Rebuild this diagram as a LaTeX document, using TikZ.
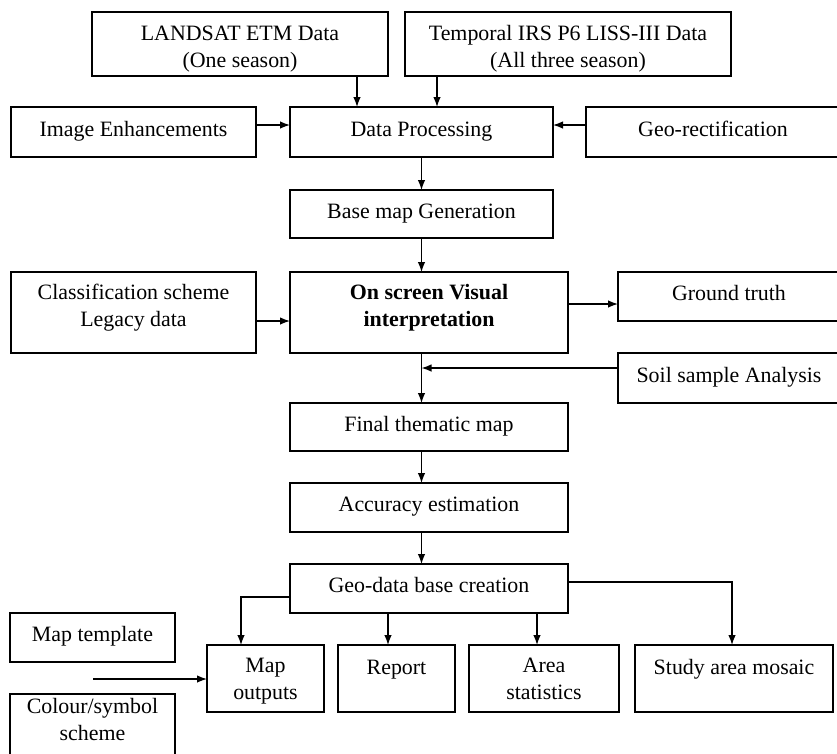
\documentclass[tikz,border=0pt]{standalone}
\usepackage{fontspec}
\setmainfont{Liberation Serif}
\usetikzlibrary{arrows.meta}
\begin{document}
\begin{tikzpicture}[x=1pt, y=-1pt]
\tikzset{ >={Latex[length=10pt,width=7.5pt]}, inner sep=0pt, outer sep=0pt,
  blk/.style={draw, line width=1.3pt, align=center, font=\fontsize{21.9}{26.5}\selectfont,
    text height=10pt, text depth=2pt},
  lift/.style={text height=#1, text depth=0pt},
  toptext/.style={text height=0pt, text depth=9pt},
  flow/.style={->, line width=1.3pt} }

\useasboundingbox (0,0) rectangle (837,753);

%%% Blocks

% input data
\node [blk, lift=46pt, minimum width=296pt, minimum height=64pt] (landsat)  at (240,44) {LANDSAT ETM Data\\(One season)};
\node [blk, lift=46pt, minimum width=326pt, minimum height=64pt] (temporal) at (568,44) {Temporal IRS P6 LISS-III Data\\(All three season)};

% processing row
\node [blk, minimum width=245pt, minimum height=50pt] (imgenh)   at (133.5,132) {Image Enhancements};
\node [blk, minimum width=263pt, minimum height=50pt] (dataproc) at (421.5,132) {Data Processing};
\node [blk, minimum width=254pt, minimum height=50pt] (georect)  at (713,132)   {Geo-rectification};

% base map
\node [blk, minimum width=263pt, minimum height=48pt] (basemap) at (421.5,214) {Base map Generation};

% interpretation row
\node [blk, lift=27pt, minimum width=245pt, minimum height=81pt] (classif) at (133.5,312.5) {Classification scheme\\Legacy data};
\node [blk, lift=27pt, minimum width=278pt, minimum height=81pt, font=\fontsize{21.9}{26.5}\selectfont\bfseries] (visual) at (429,312.5) {On screen Visual\\interpretation};
\node [blk, minimum width=222pt, minimum height=49pt] (ground) at (729,296.5) {Ground truth};
\node [blk, minimum width=222pt, minimum height=50pt] (soil)   at (729,378)   {Soil sample Analysis};

% main column
\node [blk, minimum width=278pt, minimum height=48pt] (final)    at (429,427)   {Final thematic map};
\node [blk, minimum width=278pt, minimum height=49pt] (accuracy) at (429,507.5) {Accuracy estimation};
\node [blk, minimum width=278pt, minimum height=49pt] (geodata)  at (429,588.5) {Geo-data base creation};

% outputs
\node [blk, minimum width=165pt, minimum height=49pt] (maptempl) at (92.5,637.5) {Map template};
\node [blk, lift=14pt, minimum width=165pt, minimum height=78pt] (colour) at (92.5,733) {Colour/symbol\\scheme};
\node [blk, lift=41pt, minimum width=117pt, minimum height=67pt] (mapout)   at (265.5,678.5) {Map\\outputs};
\node [blk, toptext,   minimum width=117pt, minimum height=67pt] (report)   at (396.5,678.5) {Report};
\node [blk, lift=41pt, minimum width=150pt, minimum height=67pt] (areastat) at (544,678.5)   {Area\\statistics};
\node [blk, toptext,   minimum width=198pt, minimum height=67pt] (mosaic)   at (734,678.5)   {Study area mosaic};

%%% Lines

\coordinate (lsx)    at (357,0);
\coordinate (irx)    at (437,0);
\coordinate (rowdp)  at (0,125);
\coordinate (rowcl)  at (0,321);
\coordinate (rowgt)  at (0,304);
\coordinate (rowsl)  at (0,368);
\coordinate (rowmo)  at (0,597);
\coordinate (colmo)  at (241,0);
\coordinate (colrp)  at (388,0);
\coordinate (colas)  at (537,0);
\coordinate (rowsm)  at (0,582);
\coordinate (colsm)  at (732,0);
\coordinate (free)   at (93,679);

% data -> processing
\draw [flow] (lsx |- landsat.south) -- (lsx |- dataproc.north);
\draw [flow] (irx |- temporal.south) -- (irx |- dataproc.north);
\draw [flow] (imgenh.east |- rowdp) -- (dataproc.west |- rowdp);
\draw [flow] (georect.west |- rowdp) -- (dataproc.east |- rowdp);

% processing -> base map -> interpretation
\draw [flow] (dataproc) -- (basemap);
\draw [flow] (basemap.south) -- (basemap.south |- visual.north);
\draw [flow] (classif.east |- rowcl) -- (visual.west |- rowcl);
\draw [flow] (visual.east |- rowgt) -- (ground.west |- rowgt);

% interpretation -> final map
\draw [flow] (basemap.south |- visual.south) -- (basemap.south |- final.north);
\draw [flow] (soil.west |- rowsl) -- (basemap.south |- rowsl);

% final -> accuracy -> geo-data
\draw [flow] (basemap.south |- final.south) -- (basemap.south |- accuracy.north);
\draw [flow] (basemap.south |- accuracy.south) -- (basemap.south |- geodata.north);

% geo-data -> outputs
\draw [flow] (geodata.west |- rowmo) -| (colmo |- mapout.north);
\draw [flow] (colrp |- geodata.south) -- (colrp |- report.north);
\draw [flow] (colas |- geodata.south) -- (colas |- areastat.north);
\draw [flow] (geodata.east |- rowsm) -| (colsm |- mosaic.north);
\draw [flow] (free) -- (mapout.west |- free);

\end{tikzpicture}
\end{document}
